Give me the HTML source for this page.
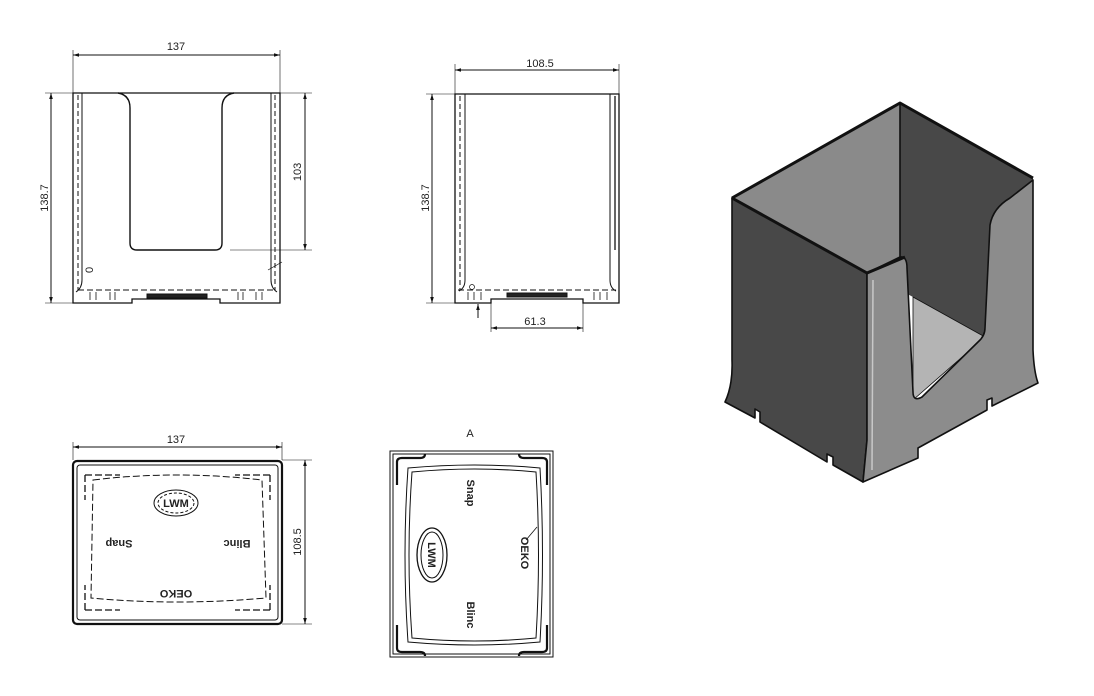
<!DOCTYPE html>
<html><head><meta charset="utf-8"><style>
html,body{margin:0;padding:0;background:#fff;}
svg{display:block;}
text{font-family:"Liberation Sans",sans-serif;font-size:11px;fill:#222;}
</style></head><body>
<svg width="1094" height="696" viewBox="0 0 1094 696" xmlns="http://www.w3.org/2000/svg">
<defs>
<marker id="ar" viewBox="0 0 10 10" refX="10" refY="5" markerWidth="8" markerHeight="6" orient="auto-start-reverse"><path d="M0,2 L10,5 L0,8 z" fill="#111"/></marker>
</defs>
<g stroke="#111" fill="none" stroke-width="1">
<!-- VIEW 1 -->
<line x1="73" y1="50" x2="73" y2="93" stroke-width="0.6"/>
<line x1="280" y1="50" x2="280" y2="93" stroke-width="0.6"/>
<line x1="73" y1="55" x2="280" y2="55" marker-start="url(#ar)" marker-end="url(#ar)"/>
<line x1="45" y1="93" x2="73" y2="93" stroke-width="0.6"/>
<line x1="45" y1="303" x2="73" y2="303" stroke-width="0.6"/>
<line x1="51" y1="93" x2="51" y2="303" marker-start="url(#ar)" marker-end="url(#ar)"/>
<line x1="280" y1="93" x2="312" y2="93" stroke-width="0.6"/>
<line x1="230" y1="250" x2="312" y2="250" stroke-width="0.6"/>
<line x1="305" y1="93" x2="305" y2="250" marker-start="url(#ar)" marker-end="url(#ar)"/>
<path d="M73,93 H280 V303 H220 V299 H132 V303 H73 Z" stroke-width="1.3"/>
<line x1="82" y1="93" x2="82" y2="280"/>
<line x1="271" y1="93" x2="271" y2="280"/>
<line x1="78" y1="95" x2="78" y2="290" stroke-dasharray="5,3"/>
<line x1="275" y1="95" x2="275" y2="290" stroke-dasharray="5,3"/>
<path d="M82,280 Q82,288 76,292 M271,280 Q271,288 277,292"/>
<path d="M118,93 Q130,95 130,108 V243 Q130,250 137,250 H215 Q222,250 222,243 V108 Q222,95 234,93" stroke-width="1.4"/>
<line x1="78" y1="290" x2="275" y2="290" stroke-dasharray="6,3"/>
<rect x="147" y="294" width="60" height="4" fill="#222"/>
<path d="M90,292 v8 M96,292 v8 M110,292 v8 M115,292 v8 M238,292 v8 M243,292 v8 M256,292 v8 M262,292 v8" stroke-width="0.8"/>
<line x1="268" y1="270" x2="282" y2="262" stroke-width="0.7"/>
<!-- VIEW 2 -->
<line x1="455" y1="64" x2="455" y2="94" stroke-width="0.6"/>
<line x1="619" y1="64" x2="619" y2="94" stroke-width="0.6"/>
<line x1="455" y1="70" x2="619" y2="70" marker-start="url(#ar)" marker-end="url(#ar)"/>
<line x1="426" y1="94" x2="455" y2="94" stroke-width="0.6"/>
<line x1="426" y1="303" x2="455" y2="303" stroke-width="0.6"/>
<line x1="432" y1="94" x2="432" y2="303" marker-start="url(#ar)" marker-end="url(#ar)"/>
<path d="M455,94 H619 V303 H583 V299 H491 V303 H455 Z" stroke-width="1.3"/>
<line x1="465" y1="94" x2="465" y2="280"/>
<line x1="610" y1="94" x2="610" y2="280"/>
<line x1="460" y1="96" x2="460" y2="290" stroke-dasharray="5,3"/>
<line x1="615" y1="96" x2="615" y2="250" stroke-width="2" stroke="#666"/>
<path d="M465,280 Q465,288 459,291 M610,280 Q610,288 616,291"/>
<line x1="458" y1="290" x2="616" y2="290" stroke-dasharray="6,3"/>
<rect x="507" y="293" width="60" height="4" fill="#222"/>
<path d="M468,292 v8 M474,292 v8 M481,292 v8 M594,292 v8 M600,292 v8 M607,292 v8" stroke-width="0.8"/>
<circle cx="472" cy="287" r="2.5" stroke-width="0.7"/>
<line x1="478" y1="318" x2="478" y2="304" marker-end="url(#ar)"/>
<line x1="491" y1="303" x2="491" y2="332" stroke-width="0.6"/>
<line x1="583" y1="303" x2="583" y2="332" stroke-width="0.6"/>
<line x1="491" y1="328" x2="583" y2="328" marker-start="url(#ar)" marker-end="url(#ar)"/>
<!-- VIEW 3 -->
<line x1="73" y1="442" x2="73" y2="460" stroke-width="0.6"/>
<line x1="282" y1="442" x2="282" y2="460" stroke-width="0.6"/>
<line x1="73" y1="447" x2="282" y2="447" marker-start="url(#ar)" marker-end="url(#ar)"/>
<line x1="282" y1="460" x2="312" y2="460" stroke-width="0.6"/>
<line x1="282" y1="624" x2="312" y2="624" stroke-width="0.6"/>
<line x1="305" y1="460" x2="305" y2="624" marker-start="url(#ar)" marker-end="url(#ar)"/>
<rect x="73" y="461" width="209" height="163" rx="4" stroke-width="2.2"/>
<rect x="77" y="465" width="201" height="155" rx="3"/>
<path d="M93,480 Q176,470 262,480 L266,598 Q176,606 91,598 Z" stroke-dasharray="7,3"/>
<path d="M85,475 H120 M85,475 V500 M270,475 H235 M270,475 V500 M85,610 H120 M85,610 V585 M270,610 H235 M270,610 V585" stroke-dasharray="7,3" stroke-width="1.3"/>
<ellipse cx="176" cy="503" rx="22" ry="13"/>
<ellipse cx="176" cy="503" rx="18" ry="10" stroke-dasharray="3,2"/>
<!-- VIEW A -->
<rect x="390" y="451" width="163" height="206"/>
<rect x="393" y="454" width="157" height="200"/>
<path d="M408,468 Q475,462 540,468 Q545,555 540,642 Q475,648 408,642 Q402,555 408,468 Z"/>
<path d="M412,472 Q475,466 536,472 Q541,555 536,638 Q475,644 412,638 Q406,555 412,472 Z"/>
<path d="M397,485 V462 Q397,458 402,458 H420 Q425,458 425,454 M547,485 V462 Q547,458 542,458 H524 Q519,458 519,454 M397,625 V648 Q397,652 402,652 H420 Q425,652 425,656 M547,625 V648 Q547,652 542,652 H524 Q519,652 519,656" stroke-width="2.2"/>
<ellipse cx="432" cy="555" rx="15" ry="27" stroke-width="1.3"/>
<ellipse cx="432" cy="555" rx="11" ry="23"/>
<path d="M526,540 L537,527" stroke-width="0.8"/>
</g>
<text x="176" y="50" text-anchor="middle">137</text>
<text transform="translate(48,198) rotate(-90)" text-anchor="middle">138.7</text>
<text transform="translate(301,172) rotate(-90)" text-anchor="middle">103</text>
<text x="90" y="276" font-size="8" transform="rotate(-90 90 273)">0</text>
<text x="540" y="67" text-anchor="middle">108.5</text>
<text transform="translate(429,198) rotate(-90)" text-anchor="middle">138.7</text>
<text x="535" y="325" text-anchor="middle">61.3</text>
<text x="176" y="443" text-anchor="middle">137</text>
<text transform="translate(301,542) rotate(-90)" text-anchor="middle">108.5</text>
<text x="119" y="548" font-size="10" font-weight="bold" text-anchor="middle" transform="rotate(180 119 544)">Snap</text>
<text x="237" y="548" font-size="10" font-weight="bold" text-anchor="middle" transform="rotate(180 237 544)">Blinc</text>
<text x="176" y="596" font-size="9" font-weight="bold" text-anchor="middle" transform="rotate(180 176 593)">OEKO</text>
<text x="176" y="507" font-size="10" font-weight="bold" text-anchor="middle">LWM</text>
<text x="470" y="437" text-anchor="middle" font-size="13">A</text>
<text x="470" y="496" font-size="10" font-weight="bold" text-anchor="middle" transform="rotate(90 470 493)">Snap</text>
<text x="470" y="618" font-size="10" font-weight="bold" text-anchor="middle" transform="rotate(90 470 615)">Blinc</text>
<text x="524" y="556" font-size="8" font-weight="bold" text-anchor="middle" transform="rotate(90 524 553)">OEKO</text>
<text x="432" y="559" font-size="11" font-weight="bold" text-anchor="middle" transform="rotate(90 432 555)">LWM</text>
<!-- ISO -->
<g stroke="#111" stroke-width="1.6" stroke-linejoin="round">
<polygon points="900,103 1033,178 1033,360 985,337 913,297 900,290" fill="#484848" stroke="none"/>
<polygon points="732,198 900,103 900,262 867,273" fill="#8a8a8a"/>
<polygon points="913,297 985,337 913,400" fill="#b4b4b4" stroke-width="0.8"/>
<path d="M732,198 L867,273 L867,440 L863,482 L833,465 L833,457 L827,454 L827,462 Q790,440 760,422 L760,412 L755,409 L755,418 L725,402 Q733,385 732,360 Z" fill="#484848"/>
<path d="M867,273 L900,257 Q907,256 907,268 L913,392 Q913,402 922,397 L978,342 Q985,336 985,328 L990,225 Q993,208 1010,198 L1033,180 L1033,350 Q1034,372 1038,383 L992,406 L992,398 L987,400 L987,410 L918,448 L918,458 L863,482 L867,440 Z" fill="#8c8c8c"/>
<path d="M732,198 L900,103 L1033,178" fill="none" stroke-width="3"/>
<path d="M732,198 L867,273 L905,257" fill="none" stroke-width="3"/>
<line x1="900" y1="103" x2="900" y2="258" stroke-width="0.8"/>
<line x1="873" y1="280" x2="872" y2="470" stroke="#c8c8c8" stroke-width="1.5"/>
</g>
</svg>
</body></html>
